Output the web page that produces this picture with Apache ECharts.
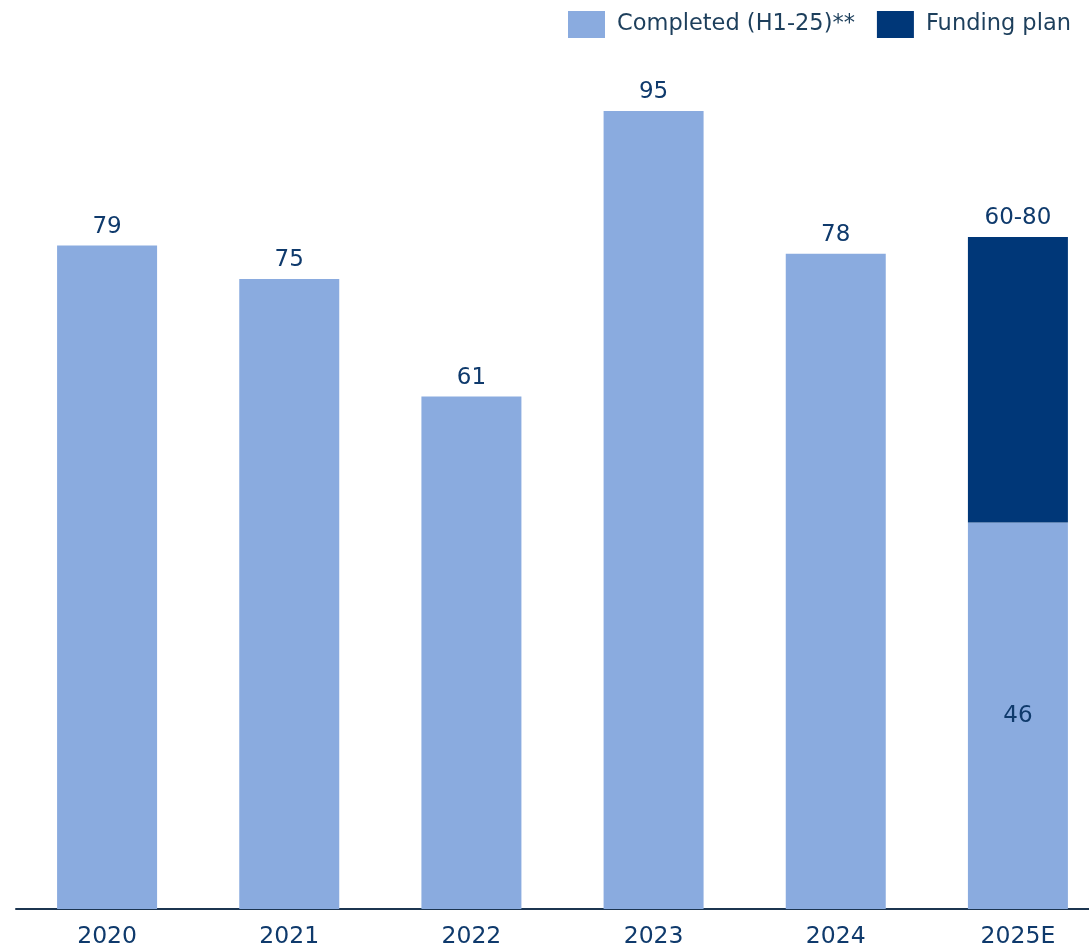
<!DOCTYPE html>
<html>
<head>
<meta charset="utf-8">
<script src="https://cdn.jsdelivr.net/npm/echarts@6/dist/echarts.min.js"></script>
<style>html,body{margin:0;padding:0;background:#fff;overflow:hidden}#c{width:1089px;height:947px}</style>
</head>
<body>
<div id="c"></div>
<script>
const categories = ['2020', '2021', '2022', '2023', '2024', '2025E'];
const completed = [79, 75, 61, 95, 78, 46];
const fundingPlan = [null, null, null, null, null, 34];
const fundingLabel = '60-80';

const labelColor = '#0f3a6c';
const font = '"DejaVu Sans", sans-serif';

const completedData = completed.map((v, i) => {
  if (i === completed.length - 1) {
    return { value: v, label: { position: 'inside' } };
  }
  return v;
});
const fundingData = fundingPlan.map(v => v);

const chart = echarts.init(document.getElementById('c'));
chart.setOption({
  animation: false,
  textStyle: { fontFamily: font },
  legend: {
    left: 568, top: 11, padding: 0,
    itemWidth: 37, itemHeight: 27, itemGap: 22,
    icon: 'rect',
    textStyle: { fontSize: 22.5, color: '#1d3f5c', fontFamily: font, padding: [5, 0, 0, 7] },
    data: ['Completed (H1-25)**', 'Funding plan']
  },
  grid: { left: 16, width: 1093, top: 69, bottom: 38, outerBoundsMode: 'none', containLabel: false },
  xAxis: {
    type: 'category',
    data: categories,
    axisLine: { lineStyle: { color: '#1c3550', width: 2 } },
    axisTick: { show: false },
    axisLabel: { fontSize: 23.5, color: labelColor, margin: 16, fontFamily: font }
  },
  yAxis: {
    type: 'value', min: 0, max: 100,
    show: false, splitLine: { show: false }
  },
  series: [
    {
      name: 'Completed (H1-25)**',
      type: 'bar', stack: 'a',
      barWidth: 100,
      itemStyle: { color: '#8aabdf' },
      label: { show: true, position: 'top', fontSize: 23, color: labelColor, distance: 7, fontFamily: font },
      data: completedData
    },
    {
      name: 'Funding plan',
      type: 'bar', stack: 'a',
      barWidth: 100,
      itemStyle: { color: '#003778' },
      label: { show: true, position: 'top', fontSize: 23, color: labelColor, distance: 7, fontFamily: font,
               formatter: () => fundingLabel },
      data: fundingData
    }
  ]
});
</script>
</body>
</html>
